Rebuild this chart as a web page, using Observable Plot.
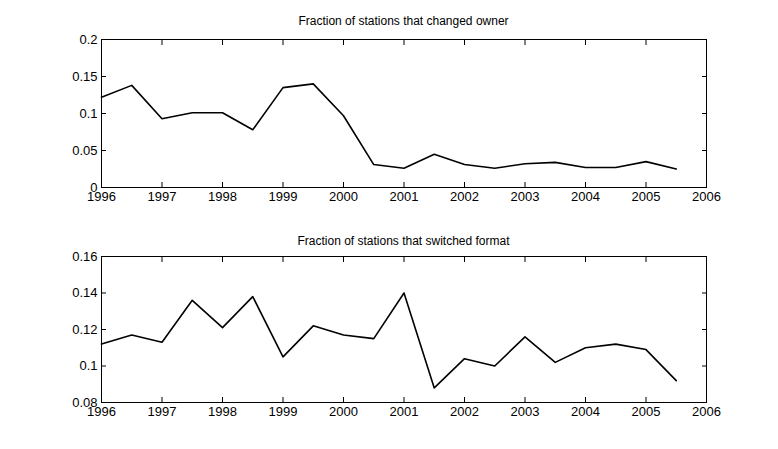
<!DOCTYPE html>
<html><head><meta charset="utf-8">
<script src="https://cdn.jsdelivr.net/npm/d3@7"></script>
<script src="https://cdn.jsdelivr.net/npm/@observablehq/plot@0.6"></script>
<style>
body{margin:0;background:#fff;font-family:"Liberation Sans",Arial,sans-serif;}
#wrap{position:relative;width:778px;height:449px;}
.t{position:absolute;left:101px;width:605px;text-align:center;font-size:12px;color:#000;z-index:2;}
.p{position:absolute;left:0;z-index:1;}
</style></head><body>
<div id="wrap">
<div class="t" style="top:14px">Fraction of stations that changed owner</div>
<div class="t" style="top:234px">Fraction of stations that switched format</div>
<div class="p" id="a" style="top:0"></div>
<div class="p" id="b" style="top:217px"></div>
</div>
<script>
const years = [1996,1996.5,1997,1997.5,1998,1998.5,1999,1999.5,2000,2000.5,2001,2001.5,2002,2002.5,2003,2003.5,2004,2004.5,2005,2005.5];
const ownerChange = [0.122,0.138,0.093,0.101,0.101,0.078,0.135,0.140,0.097,0.031,0.026,0.045,0.031,0.026,0.032,0.034,0.027,0.027,0.035,0.025];
const formatSwitch = [0.112,0.117,0.113,0.136,0.121,0.138,0.105,0.122,0.117,0.115,0.140,0.088,0.104,0.100,0.116,0.102,0.110,0.112,0.109,0.092];
const xTicks = [1996,1997,1998,1999,2000,2001,2002,2003,2004,2005,2006];
const yTicksA = [0,0.05,0.1,0.15,0.2];
const yTicksB = [0.08,0.1,0.12,0.14,0.16];
const fmt = d => String(d);

function panel(vals, yDomain, yTicks, plotH){
  const data = years.map((x,i)=>({x, y: vals[i]}));
  const h = 215, mt = 39;
  return Plot.plot({
    width: 778, height: h, marginLeft: 101, marginRight: 72, marginTop: mt, marginBottom: h-mt-plotH,
    style:{fontFamily:"Liberation Sans, Arial, sans-serif", fontSize:"13px", color:"#000", background:"transparent"},
    x:{domain:[1996,2006]},
    y:{domain:yDomain},
    marks:[
      Plot.frame({stroke:"#000"}),
      Plot.axisX({ticks: xTicks, tickSize: -5, tickFormat: fmt, label:null, tickPadding: 9}),
      Plot.axisX({anchor:"top", ticks: xTicks, tickSize: -5, tickFormat: () => "", label:null}),
      Plot.axisY({ticks: yTicks, tickSize: -5, tickFormat: fmt, label:null, tickPadding: 9}),
      Plot.axisY({anchor:"right", ticks: yTicks, tickSize: -5, tickFormat: () => "", label:null}),
      Plot.line(data, {x:"x", y:"y", stroke:"#000", strokeWidth:1.6})
    ]
  });
}
document.getElementById("a").append(panel(ownerChange,[0,0.2],yTicksA,148));
document.getElementById("b").append(panel(formatSwitch,[0.08,0.16],yTicksB,146));
</script>
</body></html>
